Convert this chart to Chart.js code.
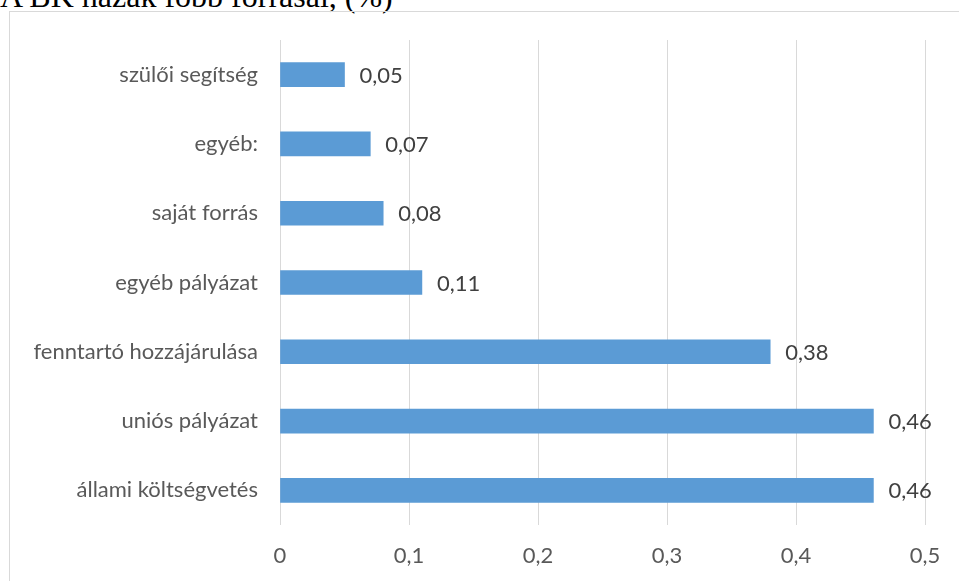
<!DOCTYPE html>
<html>
<head>
<meta charset="utf-8">
<script src="https://cdn.jsdelivr.net/npm/chart.js@4"></script>
<style>
  body { margin: 0; width: 959px; height: 581px; overflow: hidden; background: #fff; position: relative; }
  #title { position: absolute; left: 0; top: -20px; font-family: "Liberation Serif", serif; font-size: 32px; line-height: 32px; color: #000; white-space: nowrap; }
  #box { position: absolute; left: 9px; top: 11px; width: 1000px; height: 700px; border: 1px solid #d9d9d9; }
  #chart { position: absolute; left: 0; top: 0; }
</style>
</head>
<body>
<div id="title">A BK házak főbb forrásai, (%)</div>
<div id="box"></div>
<canvas id="chart" width="959" height="581"></canvas>
<script>
// adatok
const categories = ["szülői segítség", "egyéb:", "saját forrás", "egyéb pályázat", "fenntartó hozzájárulása", "uniós pályázat", "állami költségvetés"];
const values = [0.05, 0.07, 0.08, 0.11, 0.38, 0.46, 0.46];
const xTicks = [0, 0.1, 0.2, 0.3, 0.4, 0.5];

const fontFamily = "Lato, 'Open Sans', sans-serif";
const comma = (v) => String(v).replace(".", ",");

// ertekek a sav vegere
const valueLabels = {
  id: "valueLabels",
  afterDatasetsDraw(chart) {
    const ctx = chart.ctx;
    ctx.save();
    ctx.font = "22px " + fontFamily;
    ctx.fillStyle = "#404040";
    ctx.textAlign = "left";
    ctx.textBaseline = "middle";
    chart.getDatasetMeta(0).data.forEach((bar, i) => {
      ctx.fillText(comma(values[i]), bar.x + 15, bar.y + 1);
    });
    ctx.restore();
  }
};

const ctx = document.getElementById("chart").getContext("2d");
new Chart(ctx, {
  type: "bar",
  data: {
    labels: categories,
    datasets: [{
      data: values,
      backgroundColor: "#5b9bd5",
      barThickness: 24
    }]
  },
  options: {
    indexAxis: "y",
    responsive: false,
    animation: false,
    layout: { padding: { top: 40, right: 34, left: 0, bottom: 0 } },
    plugins: {
      legend: { display: false },
      tooltip: { enabled: false }
    },
    scales: {
      x: {
        min: 0,
        max: 0.5,
        afterBuildTicks: (axis) => { axis.ticks = xTicks.map((v) => ({ value: v })); },
        afterFit: (axis) => { axis.height = 56; },
        grid: { color: "#d9d9d9", lineWidth: 1, drawTicks: false },
        border: { display: false },
        ticks: {
          padding: 18,
          color: "#595959",
          font: { family: fontFamily, size: 22 },
          callback: (v) => comma(v)
        }
      },
      y: {
        afterFit: (axis) => { axis.width = 280; },
        grid: { display: false, drawTicks: false },
        border: { display: false },
        ticks: {
          padding: 22,
          color: "#595959",
          font: { family: fontFamily, size: 22 }
        }
      }
    }
  },
  plugins: [valueLabels]
});
</script>
</body>
</html>
